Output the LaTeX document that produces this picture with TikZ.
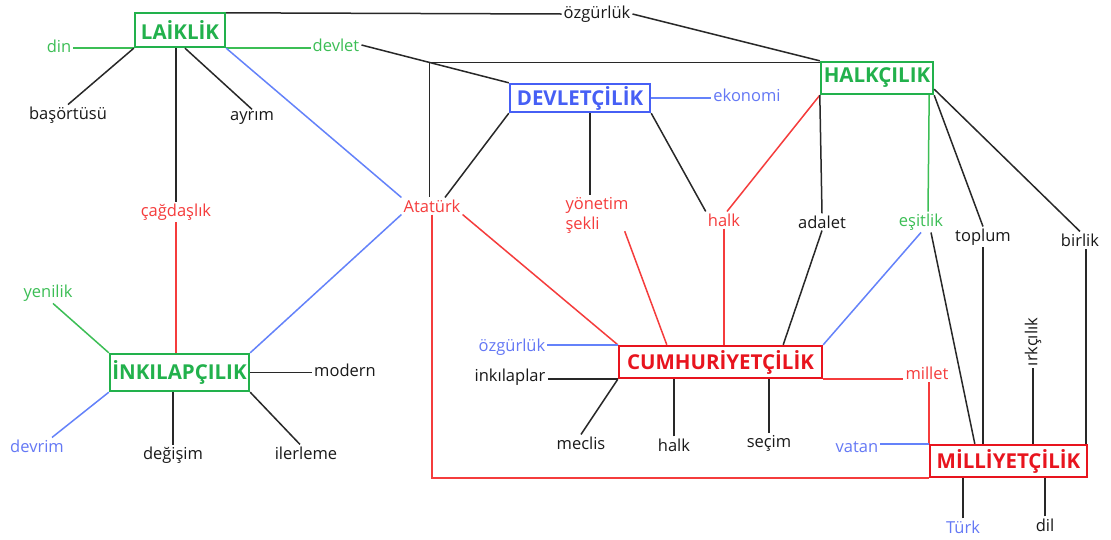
\documentclass[tikz,border=0pt]{standalone}
\usepackage{fontspec}
\setmainfont{Open Sans}
\usetikzlibrary{calc}
\definecolor{gbox}{RGB}{34,177,76}
\definecolor{glab}{RGB}{60,190,85}
\definecolor{rbox}{RGB}{232,20,30}
\definecolor{rlab}{RGB}{245,60,60}
\definecolor{bbox}{RGB}{70,95,245}
\definecolor{blab}{RGB}{100,120,245}
\definecolor{blin}{RGB}{100,130,250}
\definecolor{klin}{RGB}{40,40,40}
\definecolor{ktxt}{RGB}{25,25,25}
\begin{document}
\begin{tikzpicture}[x=1pt,y=-1pt,
  box/.style={draw, line width=2.4pt, inner sep=0pt, font=\fontsize{20.5}{24}\selectfont\bfseries},
  lbl/.style={inner sep=2pt, font=\fontsize{16.5}{20}\selectfont, text=ktxt},
  kl/.style={draw=klin, line width=1.5pt},
  gl/.style={draw=glab, line width=1.5pt},
  rl/.style={draw=rlab, line width=1.5pt},
  bl/.style={draw=blin, line width=1.5pt}]
\path[use as bounding box, fill=white] (0,0) rectangle (1111,539);
% boxes
\node[box, draw=gbox, text=gbox, minimum width=90pt, minimum height=34pt] (lai) at (180,30) {LAİKLİK};
\node[box, draw=bbox, text=bbox, minimum width=140pt, minimum height=28pt] (dev) at (580,98) {DEVLETÇİLİK};
\node[box, draw=gbox, text=gbox, minimum width=112pt, minimum height=32pt] (hal) at (877,78) {HALKÇILIK};
\node[box, draw=gbox, text=gbox, minimum width=139pt, minimum height=37pt] (ink) at (179.5,372.5) {İNKILAPÇILIK};
\node[box, draw=rbox, text=rbox, minimum width=203pt, minimum height=32pt] (cum) at (720.5,362) {CUMHURİYETÇİLİK};
\node[box, draw=rbox, text=rbox, minimum width=157pt, minimum height=32pt] (mil) at (1008.5,461) {MİLLİYETÇİLİK};
% labels
\node[lbl, text=glab] (din) at (59,46) {din};
\node[lbl, text=glab] (devlet) at (336,45) {devlet};
\node[lbl] (bas) at (68,115) {başörtüsü};
\node[lbl] (ayrim) at (252,118) {ayrım};
\node[lbl, text=rlab] (cag) at (176,212) {çağdaşlık};
\node[lbl] (ozg) at (597,14) {özgürlük};
\node[lbl, text=blab] (eko) at (747,95) {ekonomi};
\node[lbl, text=rlab] (ata) at (432,206) {Atatürk};
\node[lbl, text=rlab, align=left] (yon) at (597,215) {yönetim\\şekli};
\node[lbl, text=rlab] (halkA) at (724,220) {halk};
\node[lbl] (adalet) at (822,222) {adalet};
\node[lbl, text=glab] (esit) at (921,222) {eşitlik};
\node[lbl] (toplum) at (983,237) {toplum};
\node[lbl] (birlik) at (1080,240) {birlik};
\node[lbl, text=glab] (yen) at (48,293) {yenilik};
\node[lbl, text=blab] (devrim) at (37,446) {devrim};
\node[lbl] (modern) at (345,370) {modern};
\node[lbl] (deg) at (173,455) {değişim};
\node[lbl] (iler) at (306,453) {ilerleme};
\node[lbl, text=blab] (ozgB) at (512,347) {özgürlük};
\node[lbl] (inkl) at (510,377) {inkılaplar};
\node[lbl] (meclis) at (581,443) {meclis};
\node[lbl] (halkB) at (674,445) {halk};
\node[lbl] (secim) at (769,443) {seçim};
\node[lbl, text=rlab] (millet) at (927,373) {millet};
\node[lbl, text=blab] (vatan) at (857,447) {vatan};
\node[lbl, rotate=90] (irk) at (1033,342) {ırkçılık};
\node[lbl, text=blab] (turk) at (963,527) {Türk};
\node[lbl] (dil) at (1045,525) {dil};
% connectors
\draw[gl] (lai.south west) -- (lai.south west -| din.east);
\draw[gl] (lai.south east) -- (lai.south east -| devlet.west);
\draw[kl] (lai.south west) -- (bas.north);
\draw[kl] ($(lai.south)+(5,0)$) -- (ayrim.north);
\draw[kl] (cag.north) -- (cag.north |- lai.south);
\draw[rl] (cag.south) -- (cag.south |- ink.north);
\draw[bl] (lai.south east) -- (ata.north west);
\draw[kl] ($(lai.north east)+(0,1)$) -- (ozg.west);
\draw[kl] (ozg.east) -- (hal.north west);
\draw[kl] (devlet.east) -- (dev.north west);
\coordinate (J) at ($(devlet.east)!0.46!(dev.north west)$);
\draw[kl] (J) -- (J -| hal.west);
\draw[kl] (J) -- (J |- ata.north);
\draw[bl] (dev.east) -- (dev.east -| eko.west);
\draw[kl] (dev.south west) -- ($(ata.north)+(13,0)$);
\draw[kl] ($(dev.south)+(10,0)$) -- ($(yon.north)+(-7,0)$);
\draw[kl] (dev.south east) -- (halkA.north west);
\draw[rl] (hal.south west) -- ($(halkA.north)+(3,0)$);
\draw[rl] (halkA.south) -- (halkA.south |- cum.north);
\draw[rl] ($(yon.south east)+(-6,-4)$) -- ($(cum.north west)+(49,0)$);
\draw[rl] (ata.south east) -- (cum.north west);
\draw[bl] (ata.south west) -- (ink.north east);
\draw[rl] (ata.south) |- (mil.south west);
\draw[kl] (hal.south west) -- (adalet.north);
\draw[gl] ($(hal.south east)+(-5,0)$) -- ($(esit.north)+(7,0)$);
\draw[kl] (hal.south east) -- (toplum.north);
\draw[kl] ($(hal.south east)+(0,-6)$) -- (birlik.north);
\draw[kl] (adalet.south) -- ($(cum.north east)+(-40,0)$);
\draw[bl] (esit.south) -- (cum.north east);
\draw[kl] ($(esit.south)+(10,0)$) -- ($(mil.north west)+(46,0)$);
\draw[kl] (toplum.south) -- (toplum.south |- mil.north);
\coordinate (bb) at ($(mil.north east)+(-2,0)$);
\draw[kl] (bb) -- (bb |- birlik.south);
\draw[bl] (cum.north west) -- (cum.north west -| ozgB.east);
\draw[kl] (cum.south west) -- (cum.south west -| inkl.east);
\draw[kl] (cum.south west) -- (meclis.north);
\draw[kl] (halkB.north) -- (halkB.north |- cum.south);
\draw[kl] (secim.north) -- (secim.north |- cum.south);
\draw[rl] (cum.south east) -- (cum.south east -| millet.west);
\draw[rl] (mil.north west) -- (mil.north west |- millet.south);
\draw[bl] (mil.north west) -- (mil.north west -| vatan.east);
\draw[kl] (irk.west) -- (irk.west |- mil.north);
\draw[kl] (turk.north) -- (turk.north |- mil.south);
\draw[kl] (dil.north) -- (dil.north |- mil.south);
\draw[gl] ($(yen.south)+(5,0)$) -- (ink.north west);
\draw[bl] ($(devrim.north)+(15,0)$) -- (ink.south west);
\draw[kl] (ink.east) -- (ink.east -| modern.west);
\draw[kl] (deg.north) -- (deg.north |- ink.south);
\draw[kl] (ink.south east) -- ($(iler.north)+(-6,0)$);
\end{tikzpicture}
\end{document}
